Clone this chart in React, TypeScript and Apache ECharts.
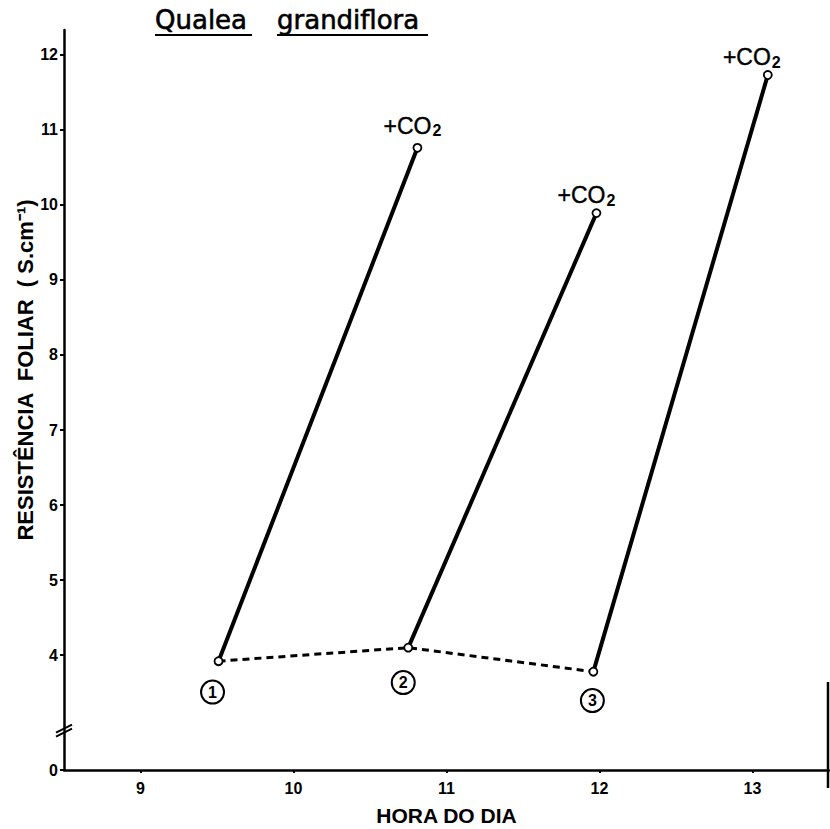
import React, { useEffect, useRef } from "react";
import * as echarts from "echarts";

// Hour of the day of each measurement (before CO2) and leaf resistance (s.cm-1)
const hours = [9.51, 10.75, 11.96];
const resistBefore = [3.92, 4.1, 3.78];
// Measurement after adding CO2
const hoursCO2 = [10.81, 11.98, 13.1];
const resistCO2 = [10.76, 9.89, 11.73];
const pointNames = ["1", "2", "3"];

// Axis ticks
const xTicks = [9, 10, 11, 12, 13];
const yTicks = [4, 5, 6, 7, 8, 9, 10, 11, 12];
const yZeroLabel = "0";

// Axis extents (y axis is broken between 0 and 4)
const xMin = 8.5;
const xMax = 13.5;
const yAxisBottom = 2.47; // position where the "0" of the broken axis sits
const yAxisTop = 12.33;
const yBreakAt = 2.98;

const title1 = "Qualea";
const title2 = "grandiflora";
const xName = "HORA DO DIA";
const yName = "RESISTÊNCIA  FOLIAR  ( S.cm⁻¹)";

// label placement tweaks (styling)
const circleOffsets = [
  [-6, 21],
  [-5, 25],
  [-1, 19],
];
const co2Offsets = [
  [-5, 1],
  [-10, 5],
  [-16, 5],
];

const FONT = "'Liberation Sans', Arial, sans-serif";

export default function App() {
  const ref = useRef<HTMLDivElement>(null);
  useEffect(() => {
    document.body.style.margin = "0";
    const chart = echarts.init(ref.current!, null, { renderer: "svg" });
    const yTickValues = [yAxisBottom, ...yTicks];

    const circleLabel = {
      show: true,
      position: "bottom",
      color: "#000",
      fontSize: 16,
      fontWeight: "bold",
      fontFamily: FONT,
      borderColor: "#000",
      borderWidth: 2,
      borderRadius: 12,
      width: 21,
      height: 21,
      lineHeight: 21,
      padding: [1, 1, 1, 1],
      align: "center",
      verticalAlign: "middle",
      distance: 5,
    };

    const co2Label = {
      show: true,
      position: "top",
      distance: 5,
      formatter: "{a|+CO}{b|2}",
      rich: {
        a: { fontSize: 23, fontFamily: FONT, color: "#000", textBorderColor: "#000", textBorderWidth: 0.4 },
        b: {
          fontSize: 16,
          fontFamily: FONT,
          color: "#000",
          fontWeight: "bold",
          padding: [10, 0, 0, 1],
        },
      },
    };

    const segmentSeries = hours.map((h, i) => ({
      type: "line",
      z: 3,
      silent: true,
      data: [
        {
          value: [h, resistBefore[i]],
          label: { ...circleLabel, formatter: pointNames[i], offset: circleOffsets[i] },
        },
        {
          value: [hoursCO2[i], resistCO2[i]],
          label: { ...co2Label, offset: co2Offsets[i] },
        },
      ],
      symbol: "circle",
      symbolSize: 8,
      showSymbol: true,
      itemStyle: { color: "#fff", borderColor: "#000", borderWidth: 1.8 },
      lineStyle: { color: "#000", width: 4 },
      emphasis: { disabled: true },
    }));

    const dashedSeries = {
      type: "line",
      z: 2,
      silent: true,
      data: hours.map((h, i) => [h, resistBefore[i]]),
      showSymbol: false,
      symbol: "none",
      lineStyle: { color: "#000", width: 3, type: [7, 5] },
      emphasis: { disabled: true },
    };

    const option: any = {
      animation: false,
      backgroundColor: "#fff",
      grid: { left: 64, right: 1, top: 30, bottom: 59, containLabel: false, outerBoundsMode: "none" },
      xAxis: {
        type: "value",
        min: xMin,
        max: xMax,
        axisLine: { show: true, lineStyle: { color: "#000", width: 2.5 } },
        axisTick: { show: true, length: 3, customValues: xTicks, lineStyle: { color: "#000", width: 2 } },
        axisLabel: {
          customValues: xTicks,
          color: "#000",
          fontSize: 16,
          fontWeight: "bold",
          fontFamily: FONT,
          margin: 10,
        },
        splitLine: { show: false },
        name: xName,
        nameLocation: "middle",
        nameGap: 34,
        nameTextStyle: { color: "#000", fontSize: 21, fontWeight: "bold", fontFamily: FONT, lineHeight: 22 },
      },
      yAxis: {
        type: "value",
        min: yAxisBottom,
        max: yAxisTop,
        axisLine: { show: true, lineStyle: { color: "#000", width: 2.5 } },
        axisTick: { show: true, length: 4, customValues: yTickValues, lineStyle: { color: "#000", width: 2 } },
        axisLabel: {
          customValues: yTickValues,
          showMinLabel: true,
          showMaxLabel: true,
          formatter: (v: number) => (v < yTicks[0] ? yZeroLabel : String(v)),
          color: "#000",
          fontSize: 16,
          fontWeight: "bold",
          fontFamily: FONT,
          margin: 6,
        },
        splitLine: { show: false },
      },
      series: [dashedSeries, ...segmentSeries],
    };
    chart.setOption(option);

    const [bx, by] = chart.convertToPixel({ gridIndex: 0 }, [xMin, yBreakAt]) as number[];

    const titleStyle = {
      fontSize: 26,
      fontFamily: "'DejaVu Sans', sans-serif",
      fill: "#000",
      stroke: "#000",
      lineWidth: 0.6,
      verticalAlign: "bottom",
      align: "left",
    };

    chart.setOption({
      graphic: [
        { type: "text", x: 155, y: 33, style: { ...titleStyle, text: title1 } },
        { type: "text", x: 277, y: 33, style: { ...titleStyle, text: title2 } },
        { type: "line", shape: { x1: 155, y1: 35, x2: 252, y2: 35 }, style: { stroke: "#000", lineWidth: 2.2 } },
        { type: "line", shape: { x1: 277, y1: 35, x2: 428, y2: 35 }, style: { stroke: "#000", lineWidth: 2.2 } },
        {
          type: "text",
          x: 25,
          y: 370,
          rotation: Math.PI / 2,
          style: {
            text: yName,
            fontSize: 22,
            fontWeight: "bold",
            fontFamily: FONT,
            fill: "#000",
            align: "center",
            verticalAlign: "middle",
          },
        },
        { type: "line", shape: { x1: 828, y1: 682, x2: 828, y2: 788 }, style: { stroke: "#000", lineWidth: 2.5 } },
        {
          type: "line",
          shape: { x1: bx - 8, y1: by + 5, x2: bx + 8, y2: by - 3 },
          style: { stroke: "#000", lineWidth: 2 },
        },
        {
          type: "line",
          shape: { x1: bx - 8, y1: by + 1, x2: bx + 8, y2: by - 7 },
          style: { stroke: "#000", lineWidth: 2 },
        },
      ],
    });

    return () => chart.dispose();
  }, []);
  return <div ref={ref} style={{ width: 830, height: 829 }} />;
}
